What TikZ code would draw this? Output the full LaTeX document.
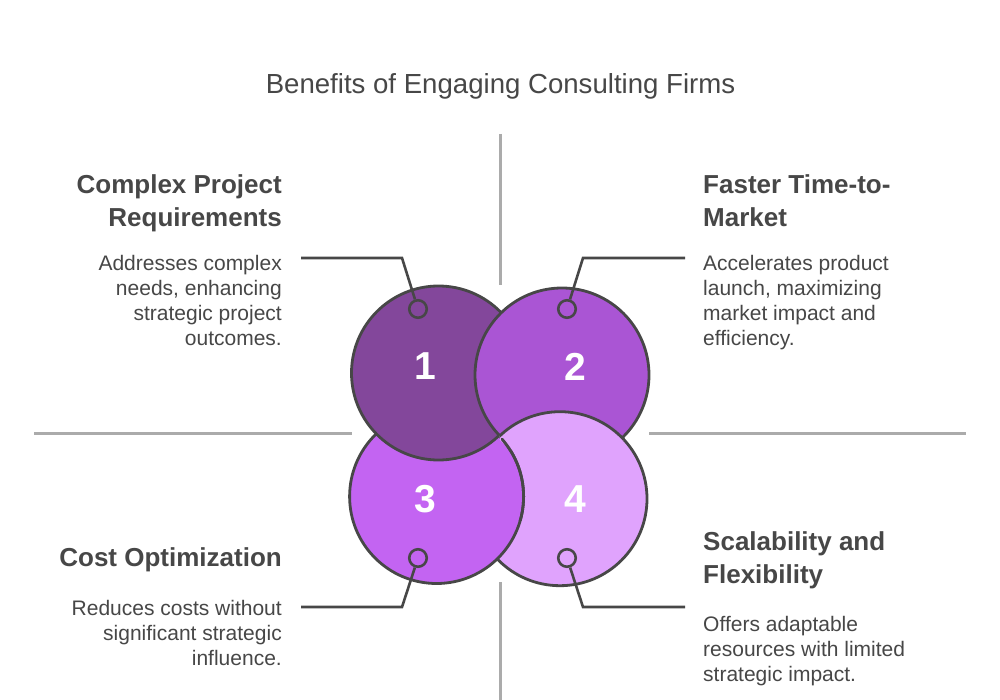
\documentclass[tikz,border=0pt]{standalone}
\usepackage{fontspec}
\setmainfont{Liberation Sans}
\definecolor{ink}{HTML}{474747}
\definecolor{rulegray}{HTML}{ABABAB}
\definecolor{cone}{HTML}{83479B}
\definecolor{ctwo}{HTML}{AA55D4}
\definecolor{cthree}{HTML}{C364F2}
\definecolor{cfour}{HTML}{E0A3FD}
\tikzset{
  ring/.style={draw=ink,line width=2.8pt},
  divider/.style={draw=rulegray,line width=3pt},
  leader/.style={draw=ink,line width=2.6pt,line join=miter},
  dot/.style={circle,draw=ink,line width=2.6pt,minimum size=17.5pt,inner sep=0pt},
  numlabel/.style={text=white,font=\fontsize{39}{39}\selectfont\bfseries,inner sep=0pt},
  headr/.style={text=ink,font=\fontsize{26}{33}\selectfont\bfseries,align=right,anchor=north east,inner sep=0pt},
  headl/.style={text=ink,font=\fontsize{26}{33}\selectfont\bfseries,align=left,anchor=north west,inner sep=0pt},
  bodyr/.style={text=ink,font=\fontsize{21}{25}\selectfont,align=right,anchor=north east,inner sep=0pt},
  bodyl/.style={text=ink,font=\fontsize{21}{25}\selectfont,align=left,anchor=north west,inner sep=0pt},
}
\begin{document}
\begin{tikzpicture}[x=1pt,y=-1pt]
\useasboundingbox (0,0) rectangle (1000,700);
\fill[white] (0,0) rectangle (1000,700);
\node[text=ink,font=\fontsize{27.6}{32}\selectfont,inner sep=0pt] (title) at (500.5,86) {Benefits of Engaging Consulting Firms};
% dividers
\coordinate (vt1) at (500,134); \coordinate (vt2) at (500,285);
\coordinate (vb1) at (500,582); \coordinate (vb2) at (500,700);
\coordinate (hl1) at (34,433); \coordinate (hl2) at (352,433);
\coordinate (hr1) at (649,433); \coordinate (hr2) at (966,433);
\draw[divider] (vt1) -- (vt2);
\draw[divider] (vb1) -- (vb2);
\draw[divider] (hl1) -- (hl2);
\draw[divider] (hr1) -- (hr2);
% circles, pinwheel overlap
\fill[cfour] (560,498.7) circle (87);
\draw[ring] (560,498.7) circle (87);
\fill[cthree] (436.6,496.5) circle (87);
\draw[ring] (436.6,496.5) circle (87);
\fill[cone] (438.5,373) circle (87);
\draw[ring] (438.5,373) circle (87);
\fill[ctwo] (562,375) circle (87);
\draw[ring] (562,375) circle (87);
\begin{scope}
\clip (562,375) circle (90);
\clip (499.5,380) rectangle (700,500);
\fill[cfour] (560,498.7) circle (87);
\draw[ring] (560,498.7) circle (87);
\end{scope}
\begin{scope}
\clip (501,438) rectangle (530,520);
\draw[ring] (436.6,496.5) circle (87);
\end{scope}
% numbers
\node[numlabel] (n1) at (425,366.5) {1};
\node[numlabel] (n2) at (575,366.5) {2};
\node[numlabel] (n3) at (425,499) {3};
\node[numlabel] (n4) at (575,499) {4};
% anchors
\node[dot] (d1) at (418,309) {};
\node[dot] (d2) at (567,309) {};
\node[dot] (d3) at (418,558) {};
\node[dot] (d4) at (567,558) {};
\coordinate (e1) at (301,258); \coordinate (b1) at (402,258);
\coordinate (e2) at (685,258); \coordinate (b2) at (583,258);
\coordinate (e3) at (301,607); \coordinate (b3) at (402,607);
\coordinate (e4) at (685,607); \coordinate (b4) at (583,607);
\draw[leader] (e1) -- (b1) -- (d1);
\draw[leader] (e2) -- (b2) -- (d2);
\draw[leader] (e3) -- (b3) -- (d3);
\draw[leader] (e4) -- (b4) -- (d4);
% text
\node[headr] (h1) at (282,174) {Complex Project\\Requirements};
\node[bodyr] (t1) at (282,255) {Addresses complex\\needs, enhancing\\strategic project\\outcomes.};
\node[headl] (h2) at (703,174) {Faster Time-to-\\Market};
\node[bodyl] (t2) at (703,255) {Accelerates product\\launch, maximizing\\market impact and\\efficiency.};
\node[headr] (h3) at (282,547) {Cost Optimization};
\node[bodyr] (t3) at (282,600) {Reduces costs without\\significant strategic\\influence.};
\node[headl] (h4) at (703,531) {Scalability and\\Flexibility};
\node[bodyl] (t4) at (703,616) {Offers adaptable\\resources with limited\\strategic impact.};
\end{tikzpicture}
\end{document}
